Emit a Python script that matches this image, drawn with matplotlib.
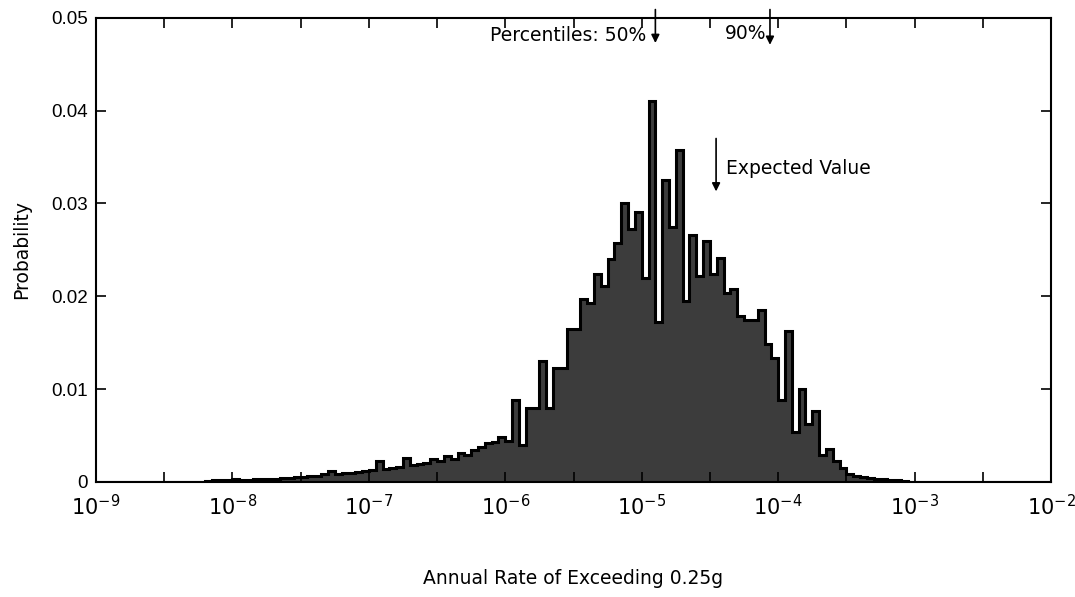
import numpy as np
import matplotlib
matplotlib.use("Agg")
import matplotlib.pyplot as plt

plt.rcParams['font.family'] = ['Liberation Sans', 'DejaVu Sans']

# histogram: 20 bins per decade from 1e-9 to 1e-2
decade_lo = -9
decade_hi = -2
bins_per_decade = 20

prob = [
    0, 0, 0, 0, 0, 0, 0, 0, 0, 0,
    0, 0, 0, 0, 0, 0, 0.0001, 0.0002, 0.0002, 0.0002,
    0.0003, 0.0002, 0.0002, 0.0003, 0.0003, 0.0003, 0.0003, 0.0004, 0.0004, 0.0005,
    0.0005, 0.0006, 0.0006, 0.0008, 0.0012, 0.0008, 0.0009, 0.0010, 0.0011, 0.0012,
    0.0013, 0.0022, 0.0014, 0.0015, 0.0016, 0.0026, 0.0018, 0.0019, 0.0020, 0.0025,
    0.0022, 0.0028, 0.0025, 0.0031, 0.0029, 0.0034, 0.0037, 0.0042, 0.0043, 0.0048,
    0.0044, 0.0088, 0.0040, 0.0080, 0.0080, 0.0130, 0.0080, 0.0123, 0.0123, 0.0165,
    0.0165, 0.0197, 0.0193, 0.0224, 0.0211, 0.0240, 0.0257, 0.0301, 0.0273, 0.0291,
    0.0220, 0.0410, 0.0172, 0.0325, 0.0275, 0.0358, 0.0195, 0.0266, 0.0222, 0.0260,
    0.0224, 0.0241, 0.0203, 0.0208, 0.0179, 0.0174, 0.0174, 0.0185, 0.0148, 0.0133,
    0.0088, 0.0163, 0.0054, 0.0100, 0.0062, 0.0076, 0.0029, 0.0035, 0.0022, 0.0015,
    0.0008, 0.0006, 0.0005, 0.0004, 0.0003, 0.0003, 0.0002, 0.0002, 0.0001, 0,
    0, 0, 0, 0, 0, 0, 0, 0, 0, 0,
    0, 0, 0, 0, 0, 0, 0, 0, 0, 0,
]

# markers above the histogram (log10 of rate)
pct50_log = -4.90
pct90_log = -4.06
expected_log = -4.455

n_bins = (decade_hi - decade_lo) * bins_per_decade
edges = 10.0 ** np.linspace(decade_lo, decade_hi, n_bins + 1)

fig = plt.figure(figsize=(10.75, 5.97), dpi=100)
ax = fig.add_axes([0.0893, 0.193, 0.8884, 0.777])

ax.stairs(prob, edges, fill=True, color='#3c3c3c', baseline=0)
ax.stairs(prob, edges, color='black', linewidth=2.2, baseline=0)

ax.set_xscale('log')
ax.set_xlim(10.0 ** decade_lo, 10.0 ** decade_hi)
ax.set_ylim(0, 0.05)

decades = np.arange(decade_lo, decade_hi + 1)
ax.set_xticks(10.0 ** decades)
ax.set_xticklabels([r'$10^{%d}$' % d for d in decades])
ax.set_xticks(10.0 ** (decades[:-1] + 0.5), minor=True)
ax.set_yticks([0, 0.01, 0.02, 0.03, 0.04, 0.05])
ax.set_yticklabels(['0', '0.01', '0.02', '0.03', '0.04', '0.05'])

ax.tick_params(which='both', direction='in', top=True, right=True,
               length=7, width=1.2, labelsize=13.5, pad=6)
ax.tick_params(axis='x', which='major', labelsize=15, pad=9)
for s in ax.spines.values():
    s.set_linewidth(1.5)

lab_font = dict(family='DejaVu Sans', fontsize=13.5)
ax.set_xlabel('Annual Rate of Exceeding 0.25g', labelpad=36, **lab_font)
ax.set_ylabel('Probability', labelpad=14, **lab_font)

arrow = dict(arrowstyle='-|>', color='black', lw=1.2, mutation_scale=12)
ax.annotate('', xy=(10 ** pct50_log, 0.0470), xytext=(10 ** pct50_log, 0.0512),
            arrowprops=arrow, annotation_clip=False)
ax.text(10 ** (pct50_log - 0.07), 0.0481, 'Percentiles: 50%', ha='right',
        va='center', **lab_font)
ax.annotate('', xy=(10 ** pct90_log, 0.0468), xytext=(10 ** pct90_log, 0.0512),
            arrowprops=arrow, annotation_clip=False)
ax.text(10 ** (pct90_log - 0.03), 0.0483, '90%', ha='right',
        va='center', **lab_font)
ax.annotate('', xy=(10 ** expected_log, 0.0310), xytext=(10 ** expected_log, 0.0373),
            arrowprops=arrow)
ax.text(10 ** (expected_log + 0.07), 0.0338, 'Expected Value', ha='left',
        va='center', **lab_font)

fig.savefig('out.png', dpi=100)
